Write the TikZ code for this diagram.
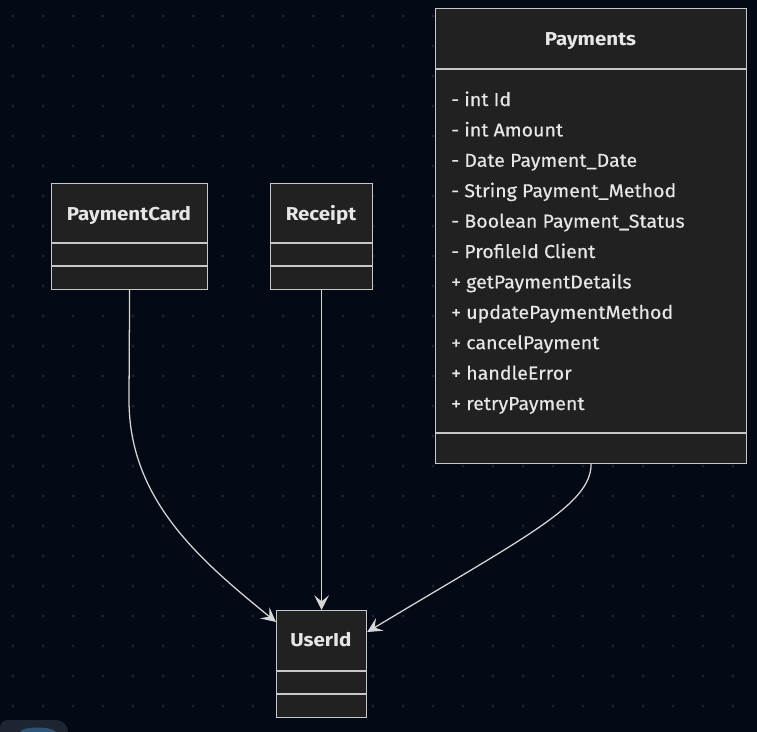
\documentclass[tikz,border=0pt]{standalone}
\usepackage{fontspec}
\setmainfont{Fira Sans}
\newfontfamily\memfont[FakeStretch=1.05,FakeBold=0.4]{Fira Sans}
\newfontfamily\titlefont[FakeStretch=1.1]{Fira Sans}
\usetikzlibrary{arrows.meta,calc}
\definecolor{bg}{HTML}{040916}
\definecolor{dotc}{HTML}{1F2330}
\definecolor{boxfill}{HTML}{212121}
\definecolor{boxline}{HTML}{C8C8C8}
\definecolor{txt}{HTML}{E6E6E6}
\definecolor{edgec}{HTML}{D6D6D6}
\definecolor{uibox}{HTML}{1E2532}
\definecolor{uiblue}{HTML}{2C5478}
\begin{document}
\begin{tikzpicture}[x=0.75pt,y=-0.75pt,
  classbox/.style={draw=boxline, fill=boxfill, line width=0.9pt, inner sep=0pt, anchor=north west},
  divider/.style={draw=boxline, line width=0.9pt},
  title/.style={text=txt, font=\titlefont\bfseries\fontsize{14pt}{16pt}\selectfont, inner sep=0pt, anchor=base},
  member/.style={text=txt, font=\memfont\fontsize{14pt}{16pt}\selectfont, inner sep=0pt, anchor=base west},
  edge/.style={draw=edgec, line width=0.95pt, -{Stealth[length=11pt,width=11pt,inset=4.5pt]}}
]
\fill[bg] (0,0) rectangle (757,732);
\useasboundingbox (0,0) rectangle (757,732);
\foreach \i in {0,...,24}{\foreach \j in {0,...,23}{\fill[dotc] (13+30*\i,16+30*\j) circle[radius=1.15pt];}}
% bottom-left UI fragment
\fill[uibox] (0,732) -- (0,728) arc[start angle=180,end angle=90,radius=6pt] -- (56,720) arc[start angle=90,end angle=0,radius=9pt] -- (68,732) -- cycle;
\fill[uiblue] (20,732) .. controls (22,726) and (52,726) .. (56,732) -- cycle;

% Payments
\node[classbox, minimum width=311*0.75pt, minimum height=455*0.75pt] (payments) at (435,8) {};
\draw[divider] ($(payments.north west)+(0,61)$) -- ($(payments.north east)+(0,61)$);
\draw[divider] ($(payments.north west)+(0,425)$) -- ($(payments.north east)+(0,425)$);
\node[title] (paymentsT) at (590.5,45) {Payments};
\foreach \t [count=\k from 0] in {- int Id,- int Amount,- Date Payment\_Date,- String Payment\_Method,- Boolean Payment\_Status,- ProfileId Client,+ getPaymentDetails,+ updatePaymentMethod,+ cancelPayment,+ handleError,+ retryPayment}{
  \node[member] (m\k) at (451,106+30.4*\k) {\t};
}

% PaymentCard
\node[classbox, minimum width=156*0.75pt, minimum height=106*0.75pt] (pcard) at (51,183) {};
\draw[divider] ($(pcard.north west)+(0,60)$) -- ($(pcard.north east)+(0,60)$);
\draw[divider] ($(pcard.north west)+(0,83)$) -- ($(pcard.north east)+(0,83)$);
\node[title] (pcardT) at (129,220) {PaymentCard};

% Receipt
\node[classbox, minimum width=102*0.75pt, minimum height=106*0.75pt] (receipt) at (270,183) {};
\draw[divider] ($(receipt.north west)+(0,60)$) -- ($(receipt.north east)+(0,60)$);
\draw[divider] ($(receipt.north west)+(0,83)$) -- ($(receipt.north east)+(0,83)$);
\node[title] (receiptT) at (321,220) {Receipt};

% UserId
\node[classbox, minimum width=90*0.75pt, minimum height=107*0.75pt] (userid) at (276,610) {};
\draw[divider] ($(userid.north west)+(0,61)$) -- ($(userid.north east)+(0,61)$);
\draw[divider] ($(userid.north west)+(0,84)$) -- ($(userid.north east)+(0,84)$);
\node[title] (useridT) at (321,646) {UserId};

\coordinate (uL) at ($(userid.north west)+(0,12)$);
\coordinate (uR) at ($(userid.north east)+(0,22)$);

% Edges
\draw[edge] (pcard.south) -- (129,400) .. controls (129,500) and (200,560) .. (uL);
\draw[edge] (receipt.south) -- (userid.north);
\draw[edge] (payments.south) .. controls (591,505) and (525,537) .. (uR);
\end{tikzpicture}
\end{document}
